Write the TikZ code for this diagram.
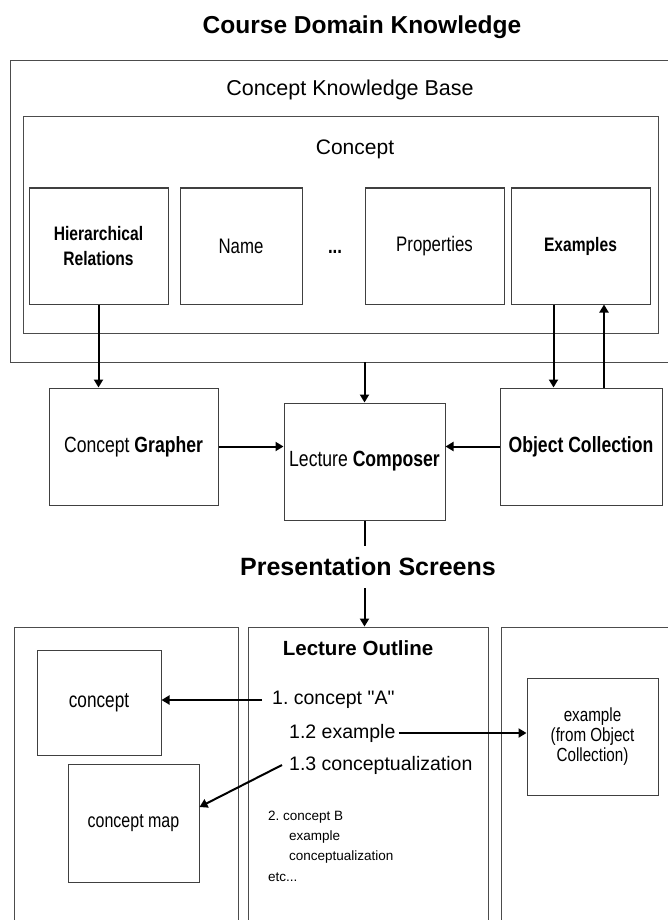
\documentclass[tikz,border=0pt]{standalone}
\usepackage{fontspec}
\setmainfont{Liberation Sans}[FakeStretch=0.8]
\newfontfamily\headfont{Liberation Sans}
\usetikzlibrary{arrows.meta}

\newcommand{\fsize}[2]{\fontsize{#1pt}{#2pt}\selectfont}
\frenchspacing

\begin{document}
\begin{tikzpicture}[x=1pt, y=-1pt, >={Triangle[length=8pt,width=9pt]},
	panel/.style={rectangle, draw=black!70, line width=0.9pt, inner sep=0pt},
	box/.style={rectangle, draw=black!75, line width=1pt, align=center},
	field/.style={box, minimum width=139pt, minimum height=116pt, font=\fsize{21}{25}},
	tool/.style={box, minimum height=117pt, font=\fsize{22}{26}},
	item/.style={anchor=west, inner sep=0pt, font=\headfont\fsize{19.5}{24}},
	note/.style={anchor=west, inner sep=0pt, font=\headfont\fsize{13.5}{16}},
	flow/.style={->, line width=2pt}]
\useasboundingbox (0,0) rectangle (667,920);

% Heading
\node[font={\headfont\bfseries\fsize{24.5}{29}}] (title) at (362,27) {Course Domain Knowledge};

% Knowledge base
\node[panel, minimum width=670pt, minimum height=302pt] (kb) at (345,211) {};
\node[font={\headfont\fsize{21.5}{26}}] (kb-label) at (350,90) {Concept Knowledge Base};
\node[panel, minimum width=635pt, minimum height=217pt] (concept) at (340.5,224.5) {};
\node[font={\headfont\fsize{21}{26}}] (concept-label) at (355,149) {Concept};

% Concept fields
\node[field, font=\bfseries\fsize{19.5}{25}] (hier) at (98.5,246) {Hierarchical\\Relations};
\node[field, minimum width=122pt] (name) at (241,246) {Name};
\node[anchor=base, font=\bfseries\fsize{21}{25}] (dots) at (335,253) {...};
\node[field] (props) at (434.5,246) {Properties};
\node[field, font=\bfseries\fsize{19.5}{25}] (examples) at (580.5,246) {Examples};

% Tools
\node[tool, minimum width=169pt] (grapher) at (133.5,446.5) {Concept \textbf{Grapher}};
\node[tool, minimum width=161pt] (composer) at (364.5,461.5) {Lecture \textbf{Composer}};
\node[tool, minimum width=162pt] (objects) at (581,446.5) {\textbf{Object Collection}};

\node[font={\headfont\bfseries\fsize{25}{30}}, inner ysep=12pt] (present) at (368,567) {Presentation Screens};

% Screens
\node[panel, minimum width=224pt, minimum height=303pt] (left-screen) at (126,778.5) {};
\node[panel, minimum width=240pt, minimum height=303pt] (mid-screen) at (368,778.5) {};
\node[panel, minimum width=179pt, minimum height=303pt] (right-screen) at (590.5,778.5) {};

\node[font={\headfont\bfseries\fsize{20.5}{25}}] (outline) at (358,648) {Lecture Outline};

\node[box, minimum width=124pt, minimum height=105pt, font=\fsize{21.5}{26}] (concept-view) at (99,702.5) {concept};
\node[box, minimum width=131pt, minimum height=118pt, font=\fsize{20}{24}] (concept-map) at (133.5,823) {concept map};
\node[box, minimum width=131pt, minimum height=117pt, font=\fsize{19}{20}] (example-view) at (592.5,736.5) {example\\(from Object\\Collection)};

% Outline items
\node[item] (item-1) at (272,700) {1. concept "A"};
\node[item] (item-2) at (289,733) {1.2 example};
\node[item] (item-3) at (289,765) {1.3 conceptualization};

\foreach \x/\y/\txt [count=\k] in {268/817/{2. concept B}, 289/837/example,
	289/857/conceptualization, 268/877/{etc...}}
{
	\node[note] (note-\k) at (\x,\y) {\txt};
}

% Connections
\draw[flow] (hier.south) -- (hier.south |- grapher.north);
\draw[flow] (kb.south -| composer.north) -- (composer.north);
\draw[flow] ([xshift=-27pt]examples.south) -- ([xshift=-27pt]examples.south |- objects.north);
\draw[flow] ([xshift=23pt]objects.north) -- ([xshift=23pt]objects.north |- examples.south);
\draw[flow] (grapher.east) -- (grapher.east -| composer.west);
\draw[flow] (objects.west) -- (objects.west -| composer.east);
\draw[line width=2pt] (composer.south) -- (composer.south |- present.north);
\draw[flow] (composer.south |- present.south) -- (composer.south |- mid-screen.north);

\draw[flow] ([xshift=-10pt]item-1.west) -- (item-1.west -| concept-view.east);
\draw[flow] ([xshift=3pt]item-2.east) -- (item-2.east -| example-view.west);
\draw[flow] ([xshift=-7pt]item-3.west) -- ([yshift=16pt]concept-map.east);
\end{tikzpicture}
\end{document}
